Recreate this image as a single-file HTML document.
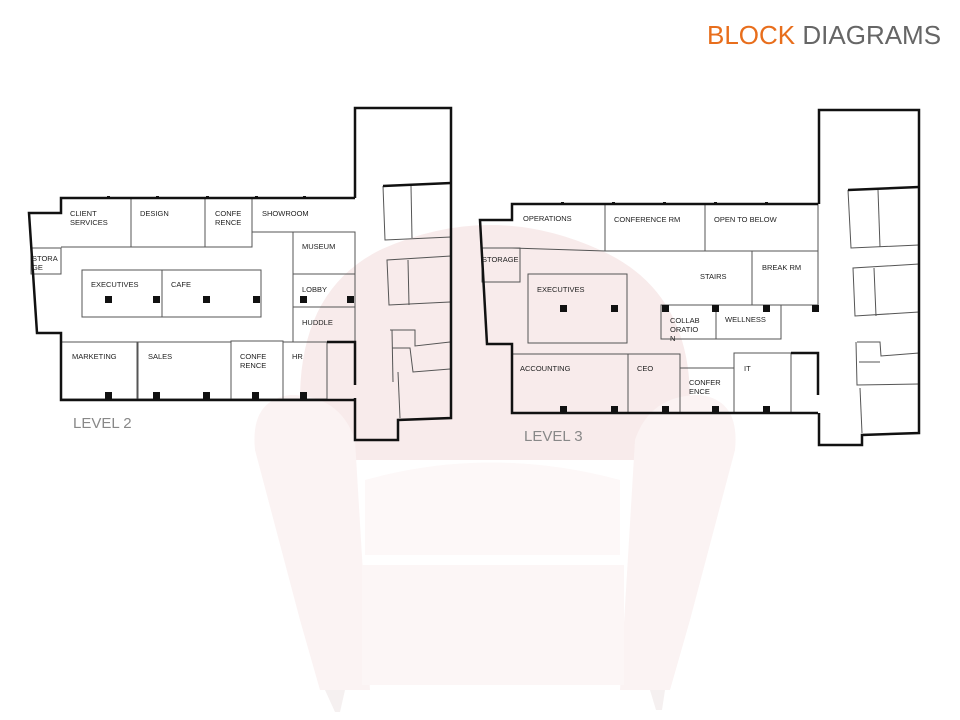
<!DOCTYPE html>
<html><head><meta charset="utf-8"><style>
html,body{margin:0;padding:0;background:#fff;}
svg{display:block;}
text{font-family:"Liberation Sans",Arial,sans-serif;}
</style></head><body>
<svg width="960" height="720" viewBox="0 0 960 720" xmlns="http://www.w3.org/2000/svg">
<!-- faint armchair -->
<g stroke="none">
<path d="M300 400 Q300 290 380 250 Q490 200 600 250 Q690 290 690 400 L690 460 L300 460Z" fill="#f8ebeb"/>
<path d="M255 450 Q250 400 290 395 Q340 395 355 440 L370 690 L320 690 L300 620Z" fill="#fbf3f3"/>
<path d="M735 450 Q740 400 700 395 Q650 395 635 440 L620 690 L670 690 L690 620Z" fill="#fbf3f3"/>
<path d="M365 480 Q490 445 620 480 L620 555 L365 555Z" fill="#fdf8f8"/>
<rect x="362" y="565" width="262" height="120" fill="#fcf6f6"/>
<path d="M325 690 L345 690 L340 712 L335 712Z" fill="#f5f0f0"/>
<path d="M650 690 L665 690 L662 710 L656 710Z" fill="#f5f0f0"/>
</g>
<!-- Title -->
<text x="707" y="44" font-size="26" fill="#e86e1c">BLOCK <tspan fill="#666">DIAGRAMS</tspan></text>
<text x="73" y="428" font-size="15" fill="#888">LEVEL 2</text>
<text x="524" y="441" font-size="15" fill="#888">LEVEL 3</text>

<g fill="none" stroke="#555" stroke-width="1">
<!-- LEVEL 2 rooms -->
<rect x="131" y="198" width="74" height="49"/>
<rect x="205" y="198" width="47" height="49"/>
<polyline points="61,247 131,247"/>
<polyline points="252,232 355,232"/>
<rect x="293" y="232" width="62" height="42"/>
<rect x="293" y="274" width="62" height="33"/>
<rect x="293" y="307" width="62" height="35"/>
<rect x="31" y="248" width="30" height="26"/>
<rect x="82" y="270" width="80" height="47"/>
<rect x="162" y="270" width="99" height="47"/>
<rect x="61" y="342" width="76" height="57"/>
<rect x="138" y="342" width="93" height="57"/>
<rect x="231" y="341" width="52" height="58"/>
<rect x="283" y="342" width="44" height="57"/>
<!-- LEVEL 3 rooms -->
<rect x="605" y="204" width="100" height="47"/>
<rect x="705" y="204" width="113" height="47"/>
<polyline points="605,251 512,248"/>
<rect x="752" y="251" width="66" height="54"/>
<polyline points="705,305 818,305"/>
<rect x="482" y="248" width="38" height="34"/>
<rect x="528" y="274" width="99" height="69"/>
<rect x="661" y="305" width="55" height="34"/>
<rect x="716" y="305" width="65" height="34"/>
<rect x="512" y="354" width="116" height="59"/>
<rect x="628" y="354" width="52" height="59"/>
<rect x="680" y="368" width="54" height="45"/>
<rect x="734" y="353" width="57" height="60"/>
<!-- tower L2 interior -->
<polyline points="383,186 385,240 451,237"/>
<line x1="411" y1="186" x2="412" y2="238"/>
<polyline points="451,256 387,260 389,305 450,302"/>
<line x1="408" y1="260" x2="409" y2="305"/>
<polyline points="390,330 415,330 415,346 450,342"/>
<polyline points="392,348 410,348 413,372 450,369"/>
<line x1="392" y1="330" x2="393" y2="382"/>
<polyline points="398,372 400,418"/>
<!-- tower L3 interior -->
<polyline points="848,190 851,248 919,245"/>
<line x1="878" y1="190" x2="880" y2="247"/>
<polyline points="919,264 853,268 855,316 919,312"/>
<line x1="874" y1="268" x2="876" y2="316"/>
<polyline points="857,342 880,342 881,356 919,353"/>
<polyline points="856,342 857,385 919,384"/>
<polyline points="859,362 880,362"/>
<line x1="860" y1="388" x2="862" y2="433"/>
</g>

<g fill="none" stroke="#111" stroke-width="2.5" stroke-linejoin="miter">
<polyline points="355,198 61,198 61,213 29,213 37,333 61,333 61,400 355,400"/>
<polyline points="355,198 355,108 451,108 451,418 398,420 398,440 355,440 355,398"/>
<polyline points="383,186 451,183"/>
<polyline points="327,342 355,342 355,385"/>
<polyline points="818,204 512,204 512,220 480,220 487,344 512,344 512,413 818,413"/>
<polyline points="819,204 819,110 919,110 919,433 862,435 862,445 819,445 819,413"/>
<polyline points="848,190 919,187"/>
<polyline points="791,353 818,353 818,395"/>
</g>

<!-- columns -->
<g fill="#111">
<rect x="105" y="296" width="7" height="7"/><rect x="153" y="296" width="7" height="7"/><rect x="203" y="296" width="7" height="7"/><rect x="253" y="296" width="7" height="7"/><rect x="300" y="296" width="7" height="7"/><rect x="347" y="296" width="7" height="7"/>
<rect x="105" y="392" width="7" height="7"/><rect x="153" y="392" width="7" height="7"/><rect x="203" y="392" width="7" height="7"/><rect x="252" y="392" width="7" height="7"/><rect x="300" y="392" width="7" height="7"/>
<rect x="560" y="305" width="7" height="7"/><rect x="611" y="305" width="7" height="7"/><rect x="662" y="305" width="7" height="7"/><rect x="712" y="305" width="7" height="7"/><rect x="763" y="305" width="7" height="7"/><rect x="812" y="305" width="7" height="7"/>
<rect x="560" y="406" width="7" height="7"/><rect x="611" y="406" width="7" height="7"/><rect x="662" y="406" width="7" height="7"/><rect x="712" y="406" width="7" height="7"/><rect x="763" y="406" width="7" height="7"/>
<rect x="156" y="196" width="3" height="3"/><rect x="206" y="196" width="3" height="3"/><rect x="255" y="196" width="3" height="3"/><rect x="303" y="196" width="3" height="3"/><rect x="107" y="196" width="3" height="3"/>
<rect x="561" y="202" width="3" height="3"/><rect x="612" y="202" width="3" height="3"/><rect x="663" y="202" width="3" height="3"/><rect x="714" y="202" width="3" height="3"/><rect x="765" y="202" width="3" height="3"/>
</g>

<!-- labels -->
<g font-size="7.5" fill="#222">
<text x="70" y="216">CLIENT</text><text x="70" y="225">SERVICES</text>
<text x="140" y="216">DESIGN</text>
<text x="215" y="216">CONFE</text><text x="215" y="225">RENCE</text>
<text x="262" y="216">SHOWROOM</text>
<text x="302" y="249">MUSEUM</text>
<text x="302" y="292">LOBBY</text>
<text x="302" y="325">HUDDLE</text>
<text x="32" y="261">STORA</text><text x="32" y="270">GE</text>
<text x="91" y="287">EXECUTIVES</text>
<text x="171" y="287">CAFE</text>
<text x="72" y="359">MARKETING</text>
<text x="148" y="359">SALES</text>
<text x="240" y="359">CONFE</text><text x="240" y="368">RENCE</text>
<text x="292" y="359">HR</text>
<text x="523" y="221">OPERATIONS</text>
<text x="614" y="222">CONFERENCE RM</text>
<text x="714" y="222">OPEN TO BELOW</text>
<text x="762" y="270">BREAK RM</text>
<text x="700" y="279">STAIRS</text>
<text x="482" y="262">STORAGE</text>
<text x="537" y="292">EXECUTIVES</text>
<text x="670" y="323">COLLAB</text><text x="670" y="332">ORATIO</text><text x="670" y="341">N</text>
<text x="725" y="322">WELLNESS</text>
<text x="520" y="371">ACCOUNTING</text>
<text x="637" y="371">CEO</text>
<text x="689" y="385">CONFER</text><text x="689" y="394">ENCE</text>
<text x="744" y="371">IT</text>
</g>
</svg>
</body></html>
